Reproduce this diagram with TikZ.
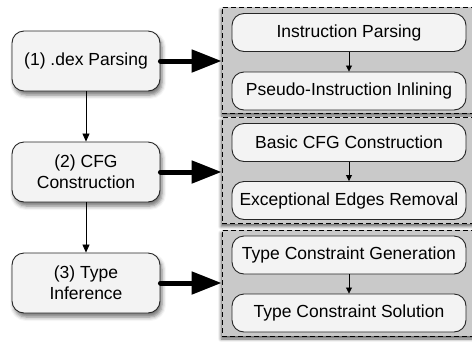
\documentclass[tikz,border=0pt]{standalone}
\usepackage{fontspec}
\setmainfont{Liberation Sans}
\usetikzlibrary{arrows.meta,shadows.blur}
\definecolor{boxfill}{HTML}{F3F3F3}
\definecolor{panelfill}{HTML}{C9C9C9}
\begin{document}
\begin{tikzpicture}[x=1pt,y=-1pt,
  txt/.style={font=\fontsize{17.5}{21}\selectfont},
  stage/.style={txt, draw=black!85, line width=0.9pt, fill=boxfill, rounded corners=12pt,
    minimum width=148pt, minimum height=60pt, align=center, inner sep=0pt,
    blur shadow={shadow xshift=2pt, shadow yshift=-4pt, shadow blur radius=4pt, shadow opacity=55}},
  sub/.style={txt, draw=black!85, line width=0.9pt, fill=boxfill, rounded corners=12pt,
    minimum width=234pt, minimum height=38pt, inner sep=0pt},
  panel/.style={draw=black, dash pattern=on 5pt off 3pt, line width=0.8pt, fill=panelfill,
    minimum width=258pt, minimum height=106pt, inner sep=0pt,
    blur shadow={shadow xshift=-1pt, shadow yshift=-3pt, shadow blur radius=3pt, shadow opacity=60}},
  thin/.style={line width=0.8pt, -{Triangle[length=8pt,width=7pt]}},
  small/.style={line width=0.8pt, -{Triangle[length=6pt,width=6pt]}},
  thick/.style={line width=5pt, line cap=round, -{Triangle[length=30pt,width=22pt]}}
]
\useasboundingbox (0,0) rectangle (472,341);

% panels
\node[panel] (p1) at (351,60) {};
\node[panel] (p2) at (351,170.5) {};
\node[panel] (p3) at (351,283) {};

% inner boxes
\node[sub] (s1) at (349,32.5) {Instruction Parsing};
\node[sub] (s2) at (349,91) {Pseudo-Instruction Inlining};
\node[sub] (s3) at (349,142.5) {Basic CFG Construction};
\node[sub] (s4) at (349,200.5) {Exceptional Edges Removal};
\node[sub] (s5) at (349,255) {Type Constraint Generation};
\node[sub] (s6) at (349,313) {Type Constraint Solution};

\draw[small] (s1) -- (s2);
\draw[small] (s3) -- (s4);
\draw[small] (s5) -- (s6);

% stages
\node[stage] (b1) at (86,61) {(1) .dex Parsing};
\node[stage] (b2) at (86,172) {(2) CFG\\Construction};
\node[stage] (b3) at (86,283) {(3) Type\\Inference};

\draw[thin] (b1) -- (b2);
\draw[thin] (b2) -- (b3);

\draw[thick] (b1.east) -- (b1.east -| p1.west);
\draw[thick] (b2.east) -- (b2.east -| p2.west);
\draw[thick] (b3.east) -- (b3.east -| p3.west);
\end{tikzpicture}
\end{document}
